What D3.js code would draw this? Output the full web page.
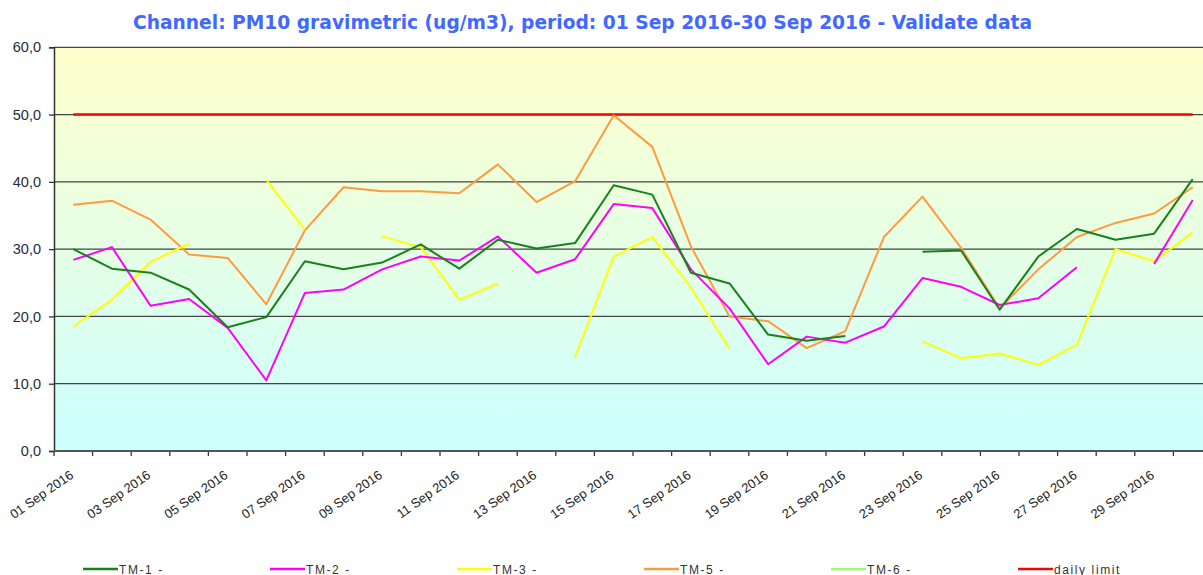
<!DOCTYPE html>
<html>
<head>
<meta charset="utf-8">
<script src="https://cdn.jsdelivr.net/npm/d3@7"></script>
<style>
  body { margin: 0; background: #fff; }
  svg { display: block; }
</style>
</head>
<body>
<div id="chart"></div>
<script>
"use strict";

// categories
let days = [
  "01 Sep 2016", "02 Sep 2016", "03 Sep 2016", "04 Sep 2016", "05 Sep 2016",
  "06 Sep 2016", "07 Sep 2016", "08 Sep 2016", "09 Sep 2016", "10 Sep 2016",
  "11 Sep 2016", "12 Sep 2016", "13 Sep 2016", "14 Sep 2016", "15 Sep 2016",
  "16 Sep 2016", "17 Sep 2016", "18 Sep 2016", "19 Sep 2016", "20 Sep 2016",
  "21 Sep 2016", "22 Sep 2016", "23 Sep 2016", "24 Sep 2016", "25 Sep 2016",
  "26 Sep 2016", "27 Sep 2016", "28 Sep 2016", "29 Sep 2016", "30 Sep 2016"
];

// series values (ug/m3), null = no data
let tm1 = [30.0, 27.1, 26.5, 24.0, 18.4, 19.9, 28.2, 27.0, 28.0, 30.7,
           27.1, 31.4, 30.1, 30.9, 39.5, 38.1, 26.5, 24.9, 17.3, 16.4,
           17.1, null, 29.6, 29.8, 21.0, 28.9, 33.0, 31.4, 32.3, 40.4];
let tm2 = [28.4, 30.3, 21.6, 22.6, 18.3, 10.5, 23.5, 24.0, 27.0, 28.9,
           28.3, 31.9, 26.5, 28.5, 36.7, 36.1, 27.0, 21.2, 12.9, 17.0,
           16.1, 18.5, 25.7, 24.4, 21.7, 22.7, 27.3, null, 27.8, 37.3];
let tm3 = [18.5, 22.5, 28.1, 30.8, null, 40.3, 32.9, null, 31.9, 30.3,
           22.5, 24.9, null, 14.0, 28.9, 31.8, 24.3, 15.2, null, null,
           null, null, 16.3, 13.8, 14.5, 12.8, 15.8, 30.0, 28.2, 32.5];
let tm5 = [36.6, 37.2, 34.4, 29.2, 28.7, 21.8, 32.8, 39.2, 38.6, 38.6,
           38.3, 42.6, 37.0, 40.1, 49.9, 45.2, 30.4, 20.0, 19.3, 15.3,
           17.8, 31.8, 37.8, 30.2, 21.2, 27.0, 31.8, 33.9, 35.3, 39.2];
let tm6 = days.map(() => null);
let dailyLimit = days.map(() => 50);

// y tick labels
let yTicks = [0, 10, 20, 30, 40, 50, 60];
let yTickLabels = ["0,0", "10,0", "20,0", "30,0", "40,0", "50,0", "60,0"];

let seriesNames = ["TM-1 -", "TM-2 -", "TM-3 -", "TM-5 -", "TM-6 -", "daily limit"];
let seriesColors = ["#1a801a", "#ff00ff", "#ffff00", "#ff9a40", "#99ff66", "#ff0000"];

let svgWidth = 1203;
let svgHeight = 575;
let plotLeft = 54, plotRight = 1212, plotTop = 47.3, plotBottom = 451;

let svg = d3.select("#chart")
  .append("svg")
  .attr("width", svgWidth)
  .attr("height", svgHeight);

/* Scales */
let xScale = d3.scaleBand()
  .domain(days)
  .range([plotLeft, plotRight])
  .padding(0);

let cx = d => xScale(d) + xScale.bandwidth() / 2;

let yScale = d3.scaleLinear()
  .domain([0, 60])
  .range([plotBottom, plotTop]);

/* Background gradient */
let defs = svg.append("defs");
let grad = defs.append("linearGradient")
  .attr("id", "bg")
  .attr("x1", 0).attr("y1", 0)
  .attr("x2", 0).attr("y2", 1);
grad.append("stop").attr("offset", "0%").attr("stop-color", "#ffffcc");
grad.append("stop").attr("offset", "100%").attr("stop-color", "#ccffff");

svg.append("rect")
  .attr("x", plotLeft)
  .attr("y", plotTop)
  .attr("width", plotRight - plotLeft)
  .attr("height", plotBottom - plotTop)
  .attr("fill", "url(#bg)");

/* Grid lines */
svg.selectAll(".grid")
  .data(yTicks.filter(v => v > 0))
  .enter()
  .append("line")
  .attr("x1", plotLeft)
  .attr("x2", plotRight)
  .attr("y1", d => yScale(d))
  .attr("y2", d => yScale(d))
  .attr("stroke", "#454545")
  .attr("stroke-width", 1.3);

/* Y axis */
let yAxis = d3.axisLeft(yScale)
  .tickValues(yTicks)
  .tickSize(5)
  .tickPadding(8)
  .tickFormat((d, i) => yTickLabels[i]);

let yG = svg.append("g")
  .attr("transform", `translate(${plotLeft},0)`)
  .call(yAxis);
yG.select(".domain").attr("stroke", "#333").attr("stroke-width", 1.5);
yG.selectAll(".tick line").attr("stroke", "#333").attr("stroke-width", 1.3);
yG.selectAll("text")
  .attr("font-family", "Liberation Sans, Arial, sans-serif")
  .attr("font-size", "14.5px")
  .attr("fill", "#2a2a3a");

/* X axis ticks at category boundaries */
let boundaries = days.map(d => xScale(d));
svg.selectAll(".xtick")
  .data(boundaries)
  .enter()
  .append("line")
  .attr("x1", d => d)
  .attr("x2", d => d)
  .attr("y1", plotBottom)
  .attr("y2", plotBottom + 5)
  .attr("stroke", "#333")
  .attr("stroke-width", 1.3);

svg.append("line")
  .attr("x1", plotLeft)
  .attr("x2", plotRight)
  .attr("y1", plotBottom)
  .attr("y2", plotBottom)
  .attr("stroke", "#555")
  .attr("stroke-width", 2);

/* X labels, every second day */
days.forEach((d, i) => {
  if (i % 2 !== 0) return;
  let x = cx(d) + 1;
  let y = plotBottom + 26;
  svg.append("text")
    .attr("x", x)
    .attr("y", y)
    .attr("text-anchor", "end")
    .attr("font-family", "Liberation Sans, Arial, sans-serif")
    .attr("font-size", "13px")
    .attr("fill", "#222")
    .attr("transform", `rotate(-35, ${x}, ${y})`)
    .text(d);
});

/* Lines */
let allSeries = [tm1, tm2, tm3, tm5, tm6, dailyLimit];
let drawOrder = [5, 4, 3, 2, 1, 0];

let line = d3.line()
  .defined(d => d.v !== null)
  .x(d => cx(d.day))
  .y(d => yScale(d.v));

let clip = defs.append("clipPath").attr("id", "plotclip");
clip.append("rect")
  .attr("x", plotLeft).attr("y", plotTop - 5)
  .attr("width", plotRight - plotLeft).attr("height", plotBottom - plotTop + 10);

let linesG = svg.append("g").attr("clip-path", "url(#plotclip)");

drawOrder.forEach(k => {
  let pts = days.map((day, i) => ({ day: day, v: allSeries[k][i] }));
  linesG.append("path")
    .datum(pts)
    .attr("fill", "none")
    .attr("stroke", seriesColors[k])
    .attr("stroke-width", k === 5 ? 2.5 : 2)
    .attr("stroke-linejoin", "round")
    .attr("d", line);
});

/* Title */
svg.append("text")
  .attr("x", 582.5)
  .attr("y", 28.5)
  .attr("text-anchor", "middle")
  .attr("font-family", "DejaVu Sans, Verdana, sans-serif")
  .attr("font-weight", "bold")
  .attr("font-size", "19.5px")
  .attr("textLength", 899)
  .attr("lengthAdjust", "spacingAndGlyphs")
  .attr("fill", "#4169ff")
  .text("Channel: PM10 gravimetric (ug/m3), period: 01 Sep 2016-30 Sep 2016 - Validate data");

/* Legend */
seriesNames.forEach((name, i) => {
  let lx = 83 + i * 187;
  let ly = 569;
  svg.append("line")
    .attr("x1", lx)
    .attr("x2", lx + 35)
    .attr("y1", ly)
    .attr("y2", ly)
    .attr("stroke", seriesColors[i])
    .attr("stroke-width", 2.5);
  svg.append("text")
    .attr("x", lx + 36)
    .attr("y", ly + 4.5)
    .attr("font-family", "Liberation Sans Narrow, Arial Narrow, Liberation Sans, sans-serif")
    .attr("font-size", "12px")
    .attr("letter-spacing", "1.6px")
    .attr("fill", "#333")
    .text(name);
});
</script>
</body>
</html>
